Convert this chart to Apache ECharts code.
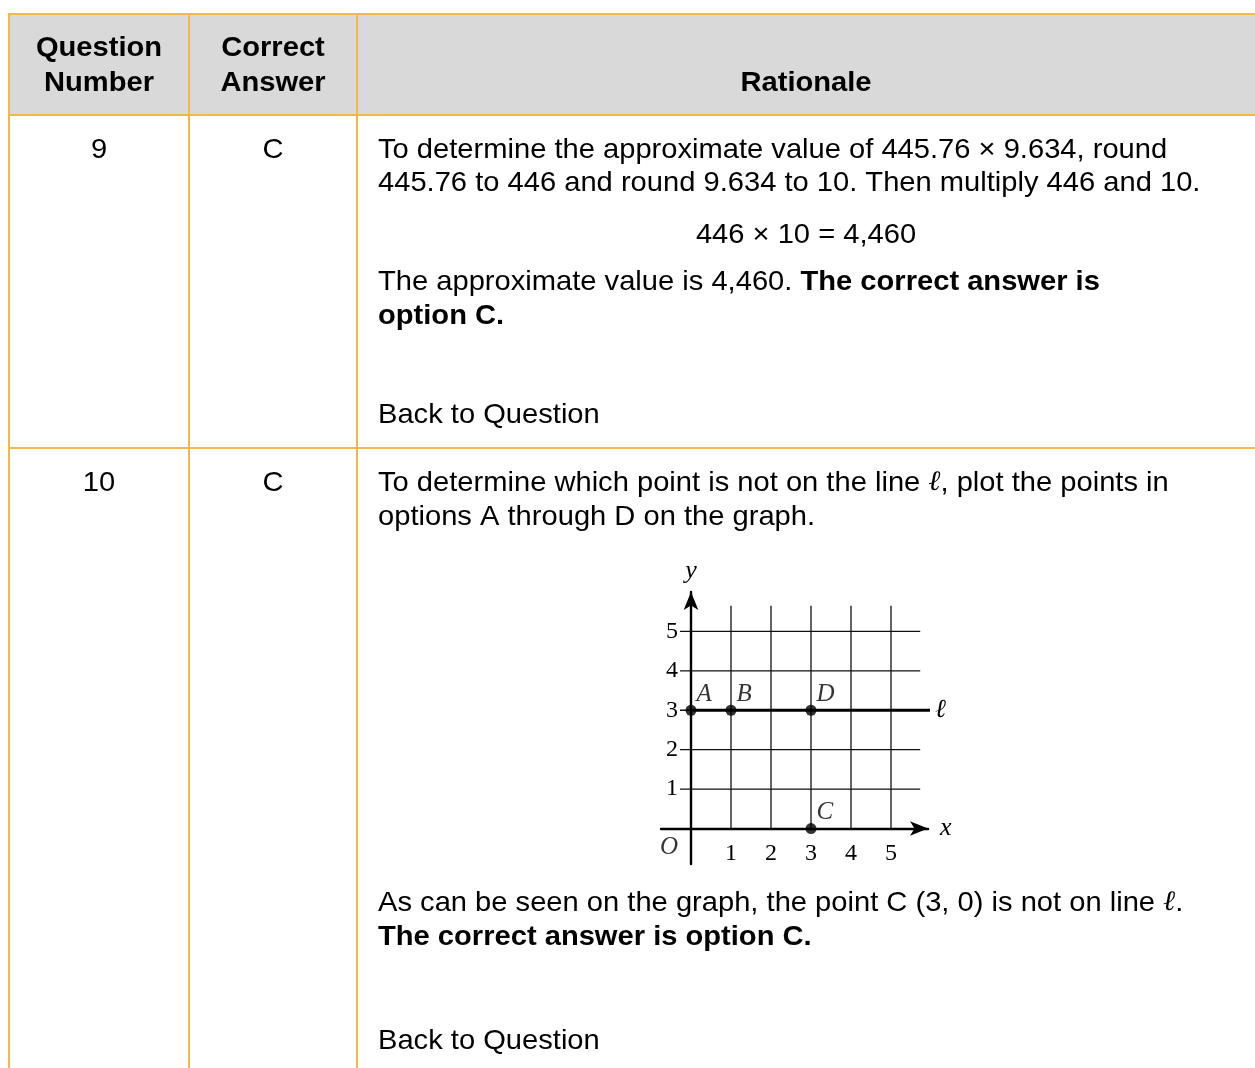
<!DOCTYPE html>
<html>
<head>
<meta charset="utf-8">
<script src="https://cdn.jsdelivr.net/npm/echarts@6/dist/echarts.min.js"></script>
<style>
html,body{margin:0;padding:0;background:#fff;}
#main{width:1255px;height:1068px;}
</style>
</head>
<body>
<div id="main"></div>
<script>
// ---------- data ----------
var headers = ['Question\nNumber', 'Correct\nAnswer', 'Rationale'];
var questionNumbers = ['9', '10'];
var correctAnswers = ['C', 'C'];
var q9Lines = [
  'To determine the approximate value of 445.76 \u00d7 9.634, round',
  '445.76 to 446 and round 9.634 to 10. Then multiply 446 and 10.'
];
var q9Equation = '446 \u00d7 10 = 4,460';
var q9Result = ['The approximate value is 4,460. ', 'The correct answer is', 'option C.'];
var q10Lines = [
  ['To determine which point is not on the line ', '\u2113', ', plot the points in'],
  ['options A through D on the graph.']
];
var q10Result = [['As can be seen on the graph, the point C (3, 0) is not on line ', '\u2113', '.'], 'The correct answer is option C.'];
var backLink = 'Back to Question';

var pointNames = ['A', 'B', 'C', 'D'];
var pointX = [0, 1, 3, 3];
var pointY = [3, 3, 0, 3];
var lineL = 3;           // line ℓ : y = 3
var xTicks = [1, 2, 3, 4, 5];
var yTicks = [1, 2, 3, 4, 5];

// ---------- layout ----------
var BORDER = '#F2B84B';
var SANS = '"Liberation Sans", Arial, Helvetica, sans-serif';
var SERIF = '"Liberation Serif", "Times New Roman", serif';
var FS = 28;
var SX = 1.04;
var colL = 9, col1 = 189, col2 = 357, right = 1255;
var topY = 14, headB = 115, row1B = 448, bottomY = 1068;
var c1 = (colL + col1) / 2, c2 = (col1 + col2) / 2, c3 = (col2 + right) / 2;
var tx = 378;

function txt(text, x, y, opts) {
  opts = opts || {};
  var st = {
    text: text, x: 0, y: 0, fill: '#000',
    fontSize: opts.size || FS, fontFamily: SANS, fontWeight: opts.bold ? 'bold' : 'normal',
    align: opts.align || 'left', textAlign: opts.align || 'left',
    verticalAlign: 'middle', textVerticalAlign: 'middle'
  };
  if (opts.rich) st.rich = opts.rich;
  return { type: 'text', z: 10, silent: true, x: x, y: y, scaleX: SX, scaleY: 1, style: st };
}
function hline(y, x1, x2) {
  return { type: 'line', z: 5, silent: true, shape: { x1: x1, y1: y, x2: x2, y2: y }, style: { stroke: BORDER, lineWidth: 2 } };
}
function vline(x, y1, y2) {
  return { type: 'line', z: 5, silent: true, shape: { x1: x, y1: y1, x2: x, y2: y2 }, style: { stroke: BORDER, lineWidth: 2 } };
}
var rich = {
  n: { fontSize: FS, fontFamily: SANS, fill: '#000', color: '#000' },
  b: { fontSize: FS, fontFamily: SANS, fontWeight: 'bold', fill: '#000', color: '#000' },
  l: { fontSize: FS, fontFamily: SERIF, fontStyle: 'italic', fill: '#000', color: '#000' }
};
function richLine(parts) {
  return parts.map(function (p) {
    return p === '\u2113' ? '{l|' + p + '}' : '{n|' + p + '}';
  }).join('');
}

var graphics = [
  { type: 'rect', z: 1, silent: true, shape: { x: colL, y: topY, width: right - colL, height: headB - topY }, style: { fill: '#D9D9D9' } },
  hline(topY, colL - 1, right), hline(headB, colL - 1, right), hline(row1B, colL - 1, right),
  vline(colL, topY, bottomY), vline(col1, topY, bottomY), vline(col2, topY, bottomY)
];
// header
var hdr0 = headers[0].split('\n'), hdr1 = headers[1].split('\n');
graphics.push(txt(hdr0[0], c1, 48, { bold: true, align: 'center' }));
graphics.push(txt(hdr0[1], c1, 83, { bold: true, align: 'center' }));
graphics.push(txt(hdr1[0], c2, 48, { bold: true, align: 'center' }));
graphics.push(txt(hdr1[1], c2, 83, { bold: true, align: 'center' }));
graphics.push(txt(headers[2], c3, 83, { bold: true, align: 'center' }));
// row 1
graphics.push(txt(questionNumbers[0], c1, 150, { align: 'center' }));
graphics.push(txt(correctAnswers[0], c2, 150, { align: 'center' }));
graphics.push(txt(q9Lines[0], tx, 150));
graphics.push(txt(q9Lines[1], tx, 183));
graphics.push(txt(q9Equation, c3, 235, { align: 'center' }));
graphics.push(txt('{n|' + q9Result[0] + '}{b|' + q9Result[1] + '}', tx, 282, { rich: rich }));
graphics.push(txt(q9Result[2], tx, 316, { bold: true }));
graphics.push(txt(backLink, tx, 415));
// row 2
graphics.push(txt(questionNumbers[1], c1, 483, { align: 'center' }));
graphics.push(txt(correctAnswers[1], c2, 483, { align: 'center' }));
graphics.push(txt(richLine(q10Lines[0]), tx, 483, { rich: rich }));
graphics.push(txt(richLine(q10Lines[1]), tx, 517, { rich: rich }));
graphics.push(txt(richLine(q10Result[0]), tx, 903, { rich: rich }));
graphics.push(txt(q10Result[1], tx, 937, { bold: true }));
graphics.push(txt(backLink, tx, 1041));

// ---------- coordinate graph ----------
var GRID_TOP = 5.65, GRID_RIGHT = 5.73, TICK_START = -0.275, L_END = 6.17;
var GRID_COLOR = '#111';
var series = [];
xTicks.forEach(function (v) {
  series.push({ type: 'line', silent: true, clip: false, symbol: 'none', animation: false,
    data: [[v, 0], [v, GRID_TOP]], lineStyle: { color: GRID_COLOR, width: 1.3 } });
});
yTicks.forEach(function (v) {
  series.push({ type: 'line', silent: true, clip: false, symbol: 'none', animation: false,
    data: [[TICK_START, v], [GRID_RIGHT, v]], lineStyle: { color: GRID_COLOR, width: 1.3 } });
});
// line ℓ
series.push({ type: 'line', silent: true, clip: false, symbol: 'none', animation: false, z: 4,
  data: [[0, lineL], [L_END, lineL]], lineStyle: { color: '#000', width: 2.8 },
  endLabel: { show: true, formatter: '\u2113', fontFamily: SERIF, fontStyle: 'italic', fontSize: 26, color: '#000', distance: 5 } });
// points
series.push({ type: 'scatter', silent: true, clip: false, animation: false, symbolSize: 11, z: 5,
  itemStyle: { color: '#000' },
  data: pointNames.map(function (n, i) { return { name: n, value: [pointX[i], pointY[i]] }; }),
  label: { show: true, position: 'right', distance: 0, offset: [0, -16], formatter: '{b}',
    fontFamily: SERIF, fontStyle: 'italic', fontSize: 25, color: '#000', textBorderWidth: 0 } });
// origin label
series.push({ type: 'scatter', silent: true, clip: false, animation: false, symbolSize: 0,
  data: [{ name: 'O', value: [0, 0] }],
  label: { show: true, position: 'left', distance: 0, offset: [-13, 19], formatter: '{b}',
    fontFamily: SERIF, fontStyle: 'italic', fontSize: 25, color: '#000', textBorderWidth: 0 } });

var axisLine = { show: true, onZero: true, symbol: ['none', 'arrow'], symbolSize: [11, 18],
  lineStyle: { color: '#000', width: 2.4 } };

var option = {
  animation: false,
  backgroundColor: '#fff',
  graphic: graphics,
  grid: { left: 661, top: 592, width: 267, height: 272, containLabel: false },
  xAxis: {
    type: 'value', min: -0.75, max: 5.925,
    axisLine: axisLine,
    axisTick: { show: false },
    splitLine: { show: false },
    axisLabel: { show: true, customValues: xTicks, margin: -22, color: '#000', fontFamily: SERIF, fontSize: 24 },
    name: 'x', nameLocation: 'end', nameGap: 12,
    nameTextStyle: { fontFamily: SERIF, fontStyle: 'italic', fontSize: 26, color: '#000', verticalAlign: 'middle' }
  },
  yAxis: {
    type: 'value', min: -0.9, max: 6.0,
    axisLine: axisLine,
    axisTick: { show: false },
    splitLine: { show: false },
    axisLabel: { show: true, customValues: yTicks, margin: -17, color: '#000', fontFamily: SERIF, fontSize: 24 },
    name: 'y', nameLocation: 'end', nameGap: 8,
    nameTextStyle: { fontFamily: SERIF, fontStyle: 'italic', fontSize: 26, color: '#000', align: 'center' }
  },
  series: series
};

var chart = echarts.init(document.getElementById('main'), null, { renderer: 'canvas' });
chart.setOption(option);
</script>
</body>
</html>
